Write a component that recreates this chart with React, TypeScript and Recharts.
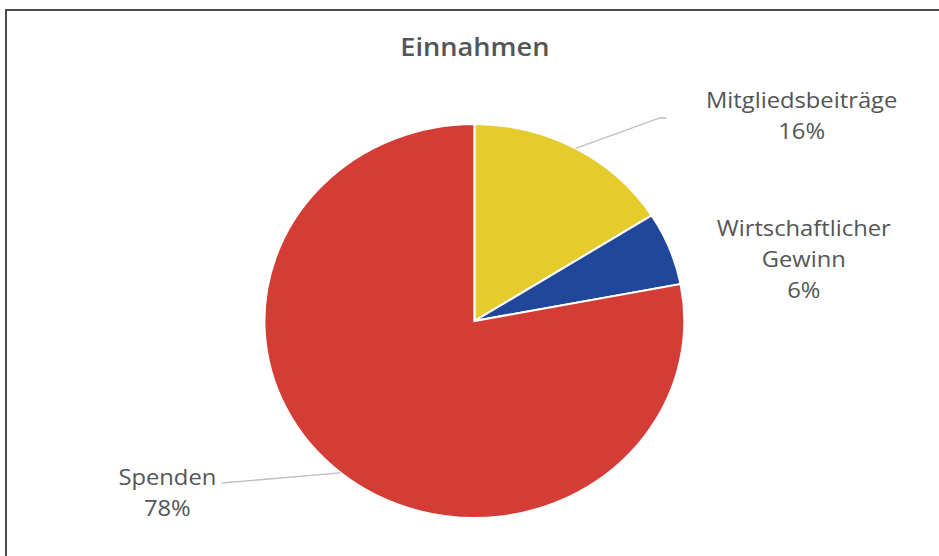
import { PieChart, Pie, Cell } from "recharts";

const categories = ["Mitgliedsbeiträge", "Wirtschaftlicher Gewinn", "Spenden"];
const shares = [16, 6, 78];
const labelNameLines = [["Mitgliedsbeiträge"], ["Wirtschaftlicher", "Gewinn"], ["Spenden"]];

const sliceColors = ["#E6CB2C", "#21479A", "#D43D35"];

// the reference is stretched sideways, so the chart is drawn narrower and scaled
const STRETCH = 1.066;
const W = 881;
const H = 556;
const RAD = Math.PI / 180;

// label block centre and leader line bend, relative to the pie centre
const labelLayout: Record<string, { dx: number; dy: number; line?: [number, number][] }> = {
  "Mitgliedsbeiträge": { dx: 307, dy: -206, line: [[174, -203], [180, -203]] },
  "Wirtschaftlicher Gewinn": { dx: 309, dy: -63 },
  Spenden: { dx: -288, dy: 171, line: [[-237, 162]] },
};

const chartData = categories.map((name, i) => ({
  name,
  value: shares[i],
  lines: labelNameLines[i],
}));

const textColor = "#555555";

function renderLabel(props: any) {
  const { cx, cy, midAngle, outerRadius, name, value, index } = props;
  const layout = labelLayout[name];
  if (!layout) return null;
  const lines: string[] = [...chartData[index].lines, `${value}%`];
  const lh = 31;
  const x = cx + layout.dx;
  const yTop = cy + layout.dy - ((lines.length - 1) * lh) / 2;
  let path = "";
  if (layout.line) {
    const sx = cx + outerRadius * Math.cos(-midAngle * RAD);
    const sy = cy + outerRadius * Math.sin(-midAngle * RAD);
    path = `M${sx},${sy}` + layout.line.map(([px, py]) => ` L${cx + px},${cy + py}`).join("");
  }
  return (
    <g key={name}>
      {path && <path d={path} stroke="#BFBFBF" strokeWidth={1.3} fill="none" />}
      <text
        x={x}
        y={yTop}
        textAnchor="middle"
        dominantBaseline="central"
        fill={textColor}
        fontSize={22.3}
        fontFamily="'Open Sans', sans-serif"
      >
        {lines.map((l, i) => (
          <tspan key={i} x={x} y={yTop + i * lh}>
            {l}
          </tspan>
        ))}
      </text>
    </g>
  );
}

export default function App() {
  return (
    <div
      style={{
        position: "fixed",
        left: 0,
        top: 0,
        width: 939,
        height: 556,
        background: "#fff",
        overflow: "hidden",
      }}
    >
      <div
        style={{
          position: "absolute",
          left: 5,
          top: 9,
          width: 934,
          height: 547,
          borderLeft: "2px solid #4a4a4a",
          borderTop: "2px solid #4a4a4a",
          boxSizing: "border-box",
        }}
      />
      <div
        style={{
          position: "absolute",
          left: 0,
          top: 0,
          width: W,
          height: H,
          transform: `scaleX(${STRETCH})`,
          transformOrigin: "0 0",
        }}
      >
        <div
          style={{
            position: "absolute",
            left: 10,
            width: 871,
            top: 29,
            textAlign: "center",
            fontFamily: "'Open Sans', sans-serif",
            fontWeight: 600,
            fontSize: 25.5,
            lineHeight: "34px",
            color: textColor,
          }}
        >
          Einnahmen
        </div>
        <PieChart
          width={W}
          height={H}
          margin={{ top: 0, right: 0, bottom: 0, left: 0 }}
          style={{ position: "absolute", left: 0, top: 0, outline: "none" }}
        >
          <Pie
            data={chartData}
            dataKey="value"
            nameKey="name"
            cx={445}
            cy={321}
            outerRadius={197}
            startAngle={90}
            endAngle={-270}
            stroke="#ffffff"
            strokeWidth={2}
            label={renderLabel}
            labelLine={false}
            isAnimationActive={false}
          >
            {chartData.map((_, i) => (
              <Cell key={i} fill={sliceColors[i]} />
            ))}
          </Pie>
        </PieChart>
      </div>
    </div>
  );
}
